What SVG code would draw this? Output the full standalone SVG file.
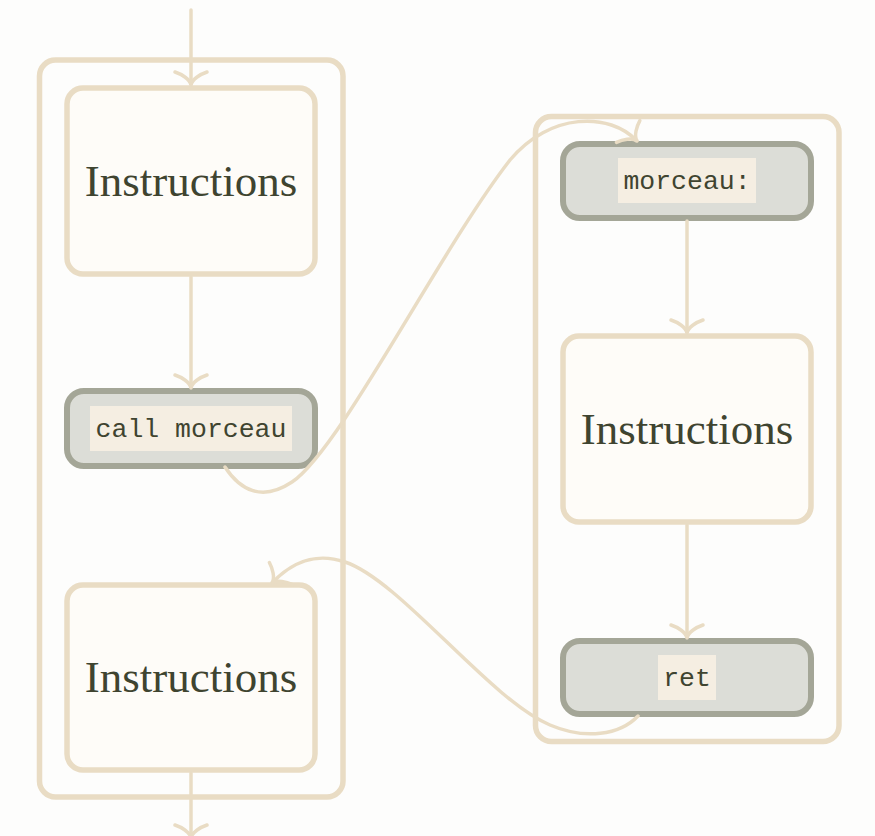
<svg xmlns="http://www.w3.org/2000/svg" width="875" height="836" viewBox="0 0 875 836">
<style>
.bg{fill:#fdfdfc}
.cont{fill:none;stroke:#e9dcc4;stroke-width:5.5}
.box{fill:#fefcf8;stroke:#e9dcc4;stroke-width:5.5}
.gbox{fill:#dcddd7;stroke:#a4a697;stroke-width:6}
.hl{fill:#f5eee2}
.serif{font-family:"Liberation Serif","Times New Roman",serif;font-size:45px;fill:#3f4430;text-anchor:middle}
.mono{font-family:"Liberation Mono","Courier New",monospace;font-size:26.5px;fill:#3f4430;text-anchor:middle}
.edge{fill:none;stroke:#e9dcc4;stroke-width:3.5;stroke-linecap:round}
</style>
<defs>
<marker id="arr" markerUnits="userSpaceOnUse" viewBox="-20 -20 40 40" markerWidth="40" markerHeight="40" refX="0" refY="0" orient="auto" overflow="visible">
<path d="M-13,-16 C-11,-10 -6,-1 0,0 C-6,1 -11,10 -13,16" fill="none" stroke="#e9dcc4" stroke-width="3.5" stroke-linecap="round"/>
</marker>
</defs>
<rect class="bg" x="0" y="0" width="875" height="836"/>
<g id="container-left"><rect class="cont" x="39.5" y="60" width="303.5" height="737" rx="16"/></g>
<g id="container-right"><rect class="cont" x="535.5" y="116.5" width="303.5" height="625" rx="16"/></g>
<g id="instr1"><rect class="box" x="67" y="88" width="248" height="186" rx="16"/><text class="serif" x="191" y="196">Instructions</text></g>
<g id="call"><rect class="gbox" x="67" y="391" width="248" height="75" rx="17"/><rect class="hl" x="90" y="406" width="202" height="45"/><text class="mono" x="191" y="437">call morceau</text></g>
<g id="instr2"><rect class="box" x="67" y="585" width="248" height="185" rx="16"/><text class="serif" x="191" y="692">Instructions</text></g>
<g id="morceau"><rect class="gbox" x="563" y="144" width="248" height="74" rx="17"/><rect class="hl" x="618" y="158" width="138" height="45"/><text class="mono" x="687" y="189">morceau:</text></g>
<g id="instr3"><rect class="box" x="563" y="336" width="248" height="186" rx="16"/><text class="serif" x="687" y="444">Instructions</text></g>
<g id="ret"><rect class="gbox" x="563" y="641" width="248" height="73" rx="17"/><rect class="hl" x="658" y="655" width="58" height="45"/><text class="mono" x="687" y="686">ret</text></g>
<g id="connectors">
<path class="edge" d="M191,10 L191,85" marker-end="url(#arr)"/>
<path class="edge" d="M191,277 L191,388" marker-end="url(#arr)"/>
<path class="edge" d="M191,773 L191,838" marker-end="url(#arr)"/>
<path class="edge" d="M687,221 L687,333" marker-end="url(#arr)"/>
<path class="edge" d="M687,525 L687,638" marker-end="url(#arr)"/>
<path class="edge" d="M225,467 C240,490 262,502 292,482 C340,450 440,250 510,160 C550,112 610,112 637,141" marker-end="url(#arr)"/>
<path class="edge" d="M638,716 C620,735 585,740 550,725 C490,700 400,580 345,562 C315,552 292,562 272,583" marker-end="url(#arr)"/>
</g>
</svg>
